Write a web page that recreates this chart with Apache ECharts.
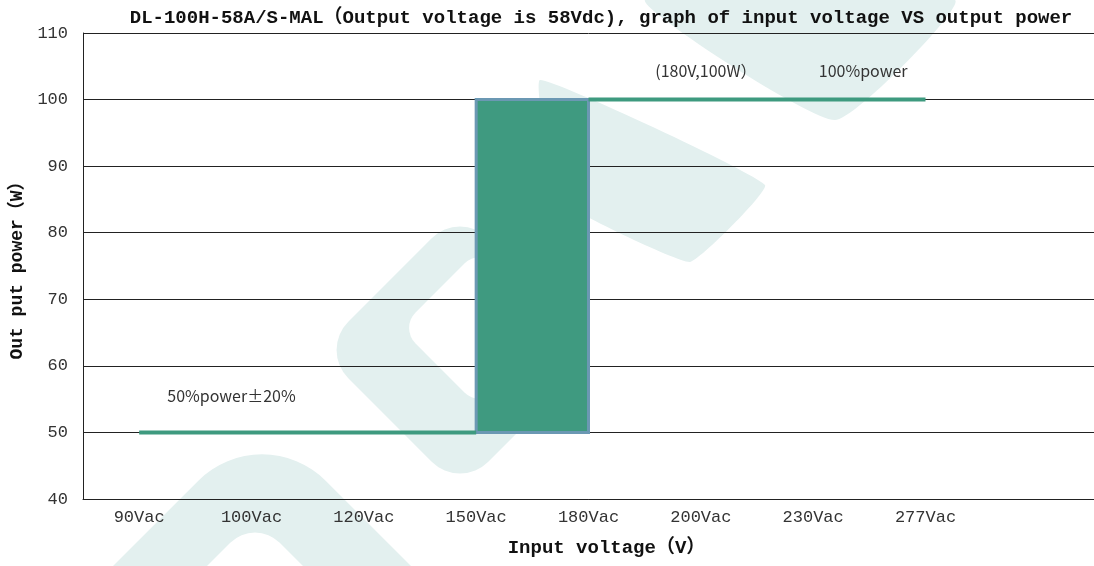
<!DOCTYPE html>
<html>
<head>
<meta charset="utf-8">
<script src="https://cdn.jsdelivr.net/npm/echarts@6/dist/echarts.min.js"></script>
<style>
html,body{margin:0;padding:0;background:#fff;}
#chart{width:1094px;height:566px;}
</style>
</head>
<body>
<div id="chart"></div>
<script>
// ---- data ----
const categories = ['90Vac', '100Vac', '120Vac', '150Vac', '180Vac', '200Vac', '230Vac', '277Vac', ''];
const lowSegment = [['90Vac', 50], ['150Vac', 50]];
const highSegment = [['180Vac', 100], ['277Vac', 100]];
const transitionFrom = '150Vac';
const transitionTo = '180Vac';
const transitionLow = 50;
const transitionHigh = 100;
const yMin = 40, yMax = 110, yStep = 10;
const annotationTexts = ['50%power±20%', '(180V,100W）', '100%power'];
const annotationX = ['100Vac', '200Vac', '230Vac'];
const annotationY = [55.5, 104.3, 104.3];
const titleText = 'DL-100H-58A/S-MAL（Output voltage is 58Vdc), graph of input voltage VS output power';
const xName = 'Input voltage（V）';
const yName = 'Out put power（W）';

// ---- chart ----
const chart = echarts.init(document.getElementById('chart'), null, {renderer: 'canvas'});
const lineColor = '#3e9a7f';
const wm = '#e3f0ef';
const annOffsets = [[-20, 0], [5, 0], [50, 0]];
const serifMono = 'Liberation Mono, Noto Sans CJK SC';

function diamond(cx, cy, halfDiag, r, color) {
  const side = halfDiag * Math.SQRT2;
  return {
    type: 'rect', x: cx, y: cy, rotation: Math.PI / 4, z: -10, silent: true,
    shape: {x: -side / 2, y: -side / 2, width: side, height: side, r: r},
    style: {fill: color}
  };
}

const option = {
  backgroundColor: '#ffffff',
  animation: false,
  title: {
    text: titleText,
    left: 596, top: 4, textAlign: 'center',
    textStyle: {fontFamily: serifMono, fontSize: 19, fontWeight: 'bold', color: '#111'}
  },
  graphic: [
    diamond(460, 350, 140, 40, wm),
    diamond(480, 328, 80, 22, '#ffffff'),
    diamond(262, 632, 215, 90, wm),
    diamond(255, 618, 100, 35, '#ffffff'),
    {type: 'polygon', z: -10, silent: true, shape: {points: [[645, 0], [955, 0], [835, 120]], smooth: 0.15}, style: {fill: wm}},
    {type: 'polygon', z: -10, silent: true, shape: {points: [[540, 80], [765, 185], [690, 262], [560, 200]], smooth: 0.1}, style: {fill: wm}}
  ],
  grid: {left: 83, right: 0, top: 33, bottom: 67, containLabel: false},
  xAxis: {
    type: 'category',
    data: categories,
    boundaryGap: true,
    name: xName,
    nameLocation: 'middle',
    nameGap: 40,
    nameTextStyle: {fontFamily: serifMono, fontSize: 19, fontWeight: 'bold', color: '#111', padding: [0, 0, 0, 36]},
    axisLine: {show: true, lineStyle: {color: '#222', width: 1}},
    axisTick: {show: false},
    axisLabel: {fontFamily: 'Liberation Mono', fontSize: 17, color: '#333', margin: 10},
    splitLine: {show: false}
  },
  yAxis: {
    type: 'value',
    min: yMin, max: yMax, interval: yStep,
    name: yName,
    nameLocation: 'middle',
    nameGap: 53,
    nameRotate: 90,
    nameTextStyle: {fontFamily: serifMono, fontSize: 18, fontWeight: 'bold', color: '#111'},
    axisLine: {show: true, lineStyle: {color: '#222', width: 1}},
    axisTick: {show: false},
    axisLabel: {fontFamily: 'Liberation Mono', fontSize: 17, color: '#333', margin: 15},
    splitLine: {show: true, lineStyle: {color: '#222', width: 1}}
  },
  series: [
    {
      type: 'line',
      data: lowSegment,
      symbol: 'none',
      lineStyle: {color: lineColor, width: 4},
      z: 3,
      markPoint: {
        symbol: 'circle', symbolSize: 0,
        label: {show: true, position: 'inside', fontFamily: 'Noto Sans CJK SC', fontSize: 16, color: '#333'},
        data: annotationTexts.map((t, i) => ({
          coord: [annotationX[i], annotationY[i]],
          label: {formatter: t, offset: annOffsets[i]}
        }))
      }
    },
    {
      type: 'line',
      data: highSegment,
      symbol: 'none',
      lineStyle: {color: lineColor, width: 4},
      z: 3,
      markArea: {
        silent: true,
        itemStyle: {color: '#3f9a80', borderColor: '#6b98b3', borderWidth: 3, opacity: 1},
        data: [[{coord: [transitionFrom, transitionLow]}, {coord: [transitionTo, transitionHigh]}]]
      }
    }
  ]
};
chart.setOption(option);
</script>
</body>
</html>
